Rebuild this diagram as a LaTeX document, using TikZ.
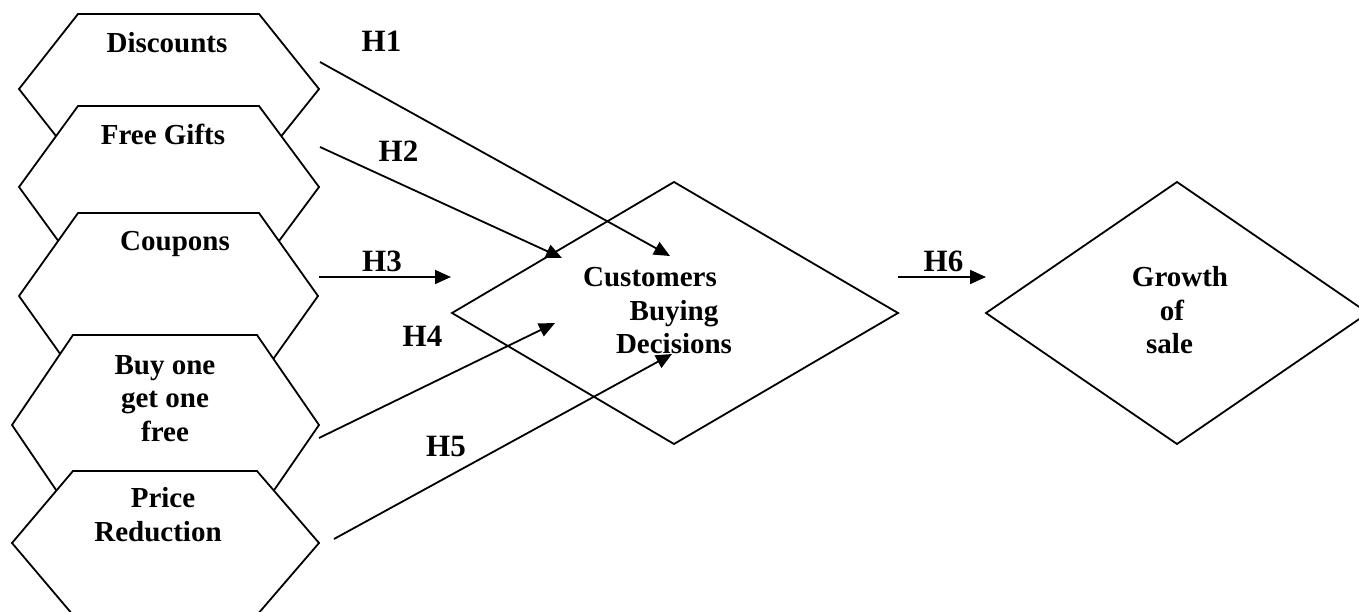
\documentclass[tikz,border=0pt]{standalone}
\usepackage{fontspec}
\setmainfont{Liberation Serif}
\usetikzlibrary{arrows.meta}
\begin{document}
\begin{tikzpicture}[x=1pt,y=-1pt,
  outline/.style={draw=black,line width=1.8pt,fill=white,line join=miter},
  txt/.style={font=\fontsize{29}{33.5}\selectfont\bfseries,inner sep=0pt,anchor=base},
  hyp/.style={font=\fontsize{31}{35}\selectfont\bfseries,inner sep=0pt,anchor=base},
  link/.style={line width=1.8pt,-{Triangle[length=16pt,width=14pt]}},
]
\useasboundingbox (0,0) rectangle (1359,612);
\clip (0,0) rectangle (1359,612);

% promotion tools, stacked hexagons (later ones overlap earlier ones)
\draw[outline] (78,14) -- (259,14) -- (319,89) -- (259,164) -- (78,164) -- (19,89) -- cycle;
\node[txt] (disc) at (167,53) {Discounts};

\draw[outline] (78,106) -- (259,106) -- (319,187) -- (259,268) -- (78,268) -- (19,187) -- cycle;
\node[txt] (gift) at (163,145) {Free Gifts};

\draw[outline] (78,213) -- (259,213) -- (318,296) -- (259,379) -- (78,379) -- (19,296) -- cycle;
\node[txt] (coup) at (175,251) {Coupons};

\draw[outline] (73,335) -- (257,335) -- (319,425) -- (257,515) -- (73,515) -- (12,425) -- cycle;
\node[txt] (bogo1) at (165,374) {Buy one};
\node[txt] (bogo2) at (165,407.5) {get one};
\node[txt] (bogo3) at (165,441) {free};

\draw[outline] (73,471) -- (257,471) -- (319,543) -- (257,615) -- (73,615) -- (12,543) -- cycle;
\node[txt] (price1) at (163,507) {Price};
\node[txt] (price2) at (158,541) {Reduction};

% mediating and outcome variables
\draw[outline] (674,182) -- (898,313) -- (674,444) -- (452,313) -- cycle;
\node[txt] (cbd1) at (650,287) {Customers};
\node[txt] (cbd2) at (674,320) {Buying};
\node[txt] (cbd3) at (674,353) {Decisions};

\draw[outline] (1177,182) -- (1368,313) -- (1177,444) -- (986,313) -- cycle;
\node[txt] (gs1) at (1180,287) {Growth};
\node[txt] (gs2) at (1172,320) {of};
\node[txt] (gs3) at (1169.5,353) {sale};

% hypothesis arrows
\coordinate (s1) at (320,62);   \coordinate (e1) at (670,256);
\coordinate (s2) at (320,147);  \coordinate (e2) at (562,258);
\coordinate (s3) at (319,277);  \coordinate (e3) at (451,277);
\coordinate (s4) at (319,438);  \coordinate (e4) at (555,323);
\coordinate (s5) at (334,539);  \coordinate (e5) at (672,354);
\coordinate (s6) at (898,277);  \coordinate (e6) at (986,277);

\draw[link] (s1) -- (e1);
\draw[link] (s2) -- (e2);
\draw[link] (s3) -- (e3);
\draw[link] (s4) -- (e4);
\draw[link] (s5) -- (e5);
\draw[link] (s6) -- (e6);

\node[hyp] (h1) at (381.5,52) {H1};
\node[hyp] (h2) at (398.5,162) {H2};
\node[hyp] (h3) at (382,272) {H3};
\node[hyp] (h4) at (422.5,346) {H4};
\node[hyp] (h5) at (446,456) {H5};
\node[hyp] (h6) at (943.5,272) {H6};
\end{tikzpicture}
\end{document}
